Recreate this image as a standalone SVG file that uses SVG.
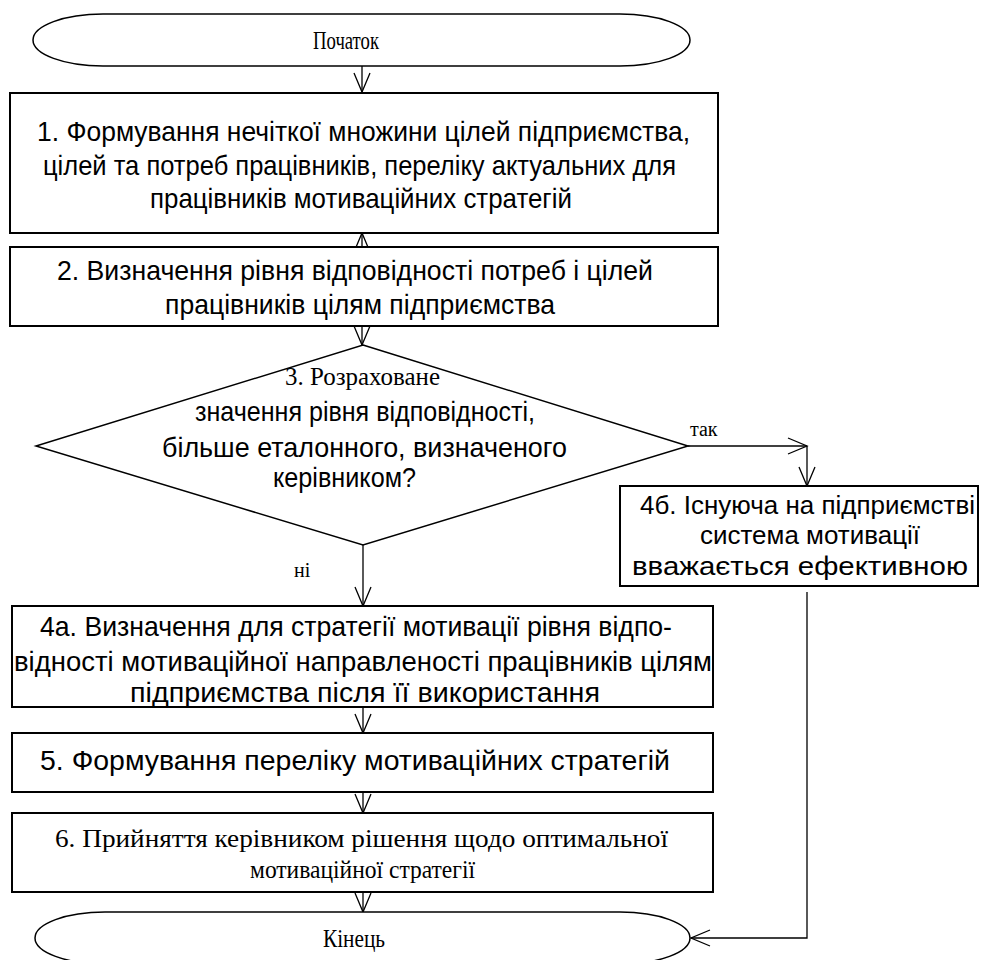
<svg xmlns="http://www.w3.org/2000/svg" width="981" height="960" viewBox="0 0 981 960">
<style>
.box{fill:#fff;stroke:#000;stroke-width:2}
.term{fill:#fff;stroke:#000;stroke-width:1.5}
.con{fill:none;stroke:#000;stroke-width:1.3}
.s{font-family:"Liberation Sans",Arial,sans-serif;font-size:28px;fill:#000}
.s4{font-family:"Liberation Sans",Arial,sans-serif;font-size:26px;fill:#000}
.r{font-family:"Liberation Serif","Times New Roman",serif;font-size:26px;fill:#000}
.lbl{font-family:"Liberation Serif","Times New Roman",serif;font-size:20px;fill:#000}
</style>
<defs>
<marker id="ah" viewBox="-21 -10 22 20" markerWidth="22" markerHeight="20" refX="0" refY="0" orient="auto" markerUnits="userSpaceOnUse" overflow="visible">
<path d="M-19,-8 L0,0 L-19,8" fill="none" stroke="#000" stroke-width="1.3"/>
</marker>
</defs>
<rect width="981" height="960" fill="#fff"/>

<g id="connectors">
<line class="con" x1="362" y1="66" x2="362" y2="92" marker-end="url(#ah)"/>
<line class="con" x1="362" y1="247" x2="362" y2="233" marker-end="url(#ah)"/>
<line class="con" x1="362" y1="326" x2="362" y2="345" marker-end="url(#ah)"/>
<polyline class="con" points="688,446 807,446" marker-end="url(#ah)"/>
<line class="con" x1="807" y1="446" x2="807" y2="486" marker-end="url(#ah)"/>
<line class="con" x1="363" y1="545" x2="363" y2="606" marker-end="url(#ah)"/>
<line class="con" x1="363" y1="707" x2="363" y2="733" marker-end="url(#ah)"/>
<line class="con" x1="363" y1="792" x2="363" y2="813" marker-end="url(#ah)"/>
<line class="con" x1="363" y1="892" x2="363" y2="912" marker-end="url(#ah)"/>
<polyline class="con" points="807,592 807,938 691,938" marker-end="url(#ah)"/>
<text class="lbl" x="690" y="436">так</text>
<text class="lbl" x="294" y="577">ні</text>
</g>

<g id="start">
<rect class="term" x="33" y="14" width="657" height="52" rx="70" ry="26"/>
<text class="r" x="313" y="49" font-size="22" textLength="66" lengthAdjust="spacingAndGlyphs">Початок</text>
</g>

<g id="step1">
<rect class="box" x="10" y="93" width="708" height="140"/>
<text class="s" x="37" y="141" textLength="653" lengthAdjust="spacingAndGlyphs">1. Формування нечіткої множини цілей підприємства,</text>
<text class="s" x="43" y="175" textLength="633" lengthAdjust="spacingAndGlyphs">цілей та потреб працівників, переліку актуальних для</text>
<text class="s" x="150" y="208" textLength="422" lengthAdjust="spacingAndGlyphs">працівників мотиваційних стратегій</text>
</g>

<g id="step2">
<rect class="box" x="10" y="247" width="708" height="79"/>
<text class="s" x="57" y="280" textLength="596" lengthAdjust="spacingAndGlyphs">2. Визначення рівня відповідності потреб і цілей</text>
<text class="s" x="165" y="314" textLength="390" lengthAdjust="spacingAndGlyphs">працівників цілям підприємства</text>
</g>

<g id="step3">
<polygon points="363,345 688,446 363,545 36,446" fill="#fff" stroke="#000" stroke-width="1.5"/>
<text class="r" x="285" y="385" font-size="24" textLength="155" lengthAdjust="spacingAndGlyphs">3. Розраховане</text>
<text class="s" x="195" y="421" textLength="340" lengthAdjust="spacingAndGlyphs">значення рівня відповідності,</text>
<text class="s" x="162" y="457" textLength="405" lengthAdjust="spacingAndGlyphs">більше еталонного, визначеного</text>
<text class="s" x="273" y="487" textLength="143" lengthAdjust="spacingAndGlyphs">керівником?</text>
</g>

<g id="step4b">
<rect class="box" x="620" y="486" width="358" height="100"/>
<text class="s4" x="640" y="514" textLength="335" lengthAdjust="spacingAndGlyphs">4б. Існуюча на підприємстві</text>
<text class="s4" x="700" y="544" textLength="220" lengthAdjust="spacingAndGlyphs">система мотивації</text>
<text class="s4" x="632" y="575" textLength="336" lengthAdjust="spacingAndGlyphs">вважається ефективною</text>
</g>

<g id="step4a">
<rect class="box" x="12" y="606" width="701" height="101"/>
<text class="s" x="40" y="636" textLength="632" lengthAdjust="spacingAndGlyphs">4а. Визначення для стратегії мотивації рівня відпо-</text>
<text class="s" x="14" y="671" textLength="698" lengthAdjust="spacingAndGlyphs">відності мотиваційної направленості працівників цілям</text>
<text class="s" x="130" y="702" textLength="470" lengthAdjust="spacingAndGlyphs">підприємства після її використання</text>
</g>

<g id="step5">
<rect class="box" x="12" y="733" width="701" height="59"/>
<text class="s" x="40" y="770" textLength="630" lengthAdjust="spacingAndGlyphs">5. Формування переліку мотиваційних стратегій</text>
</g>

<g id="step6">
<rect class="box" x="12" y="813" width="701" height="79"/>
<text class="r" x="55" y="847" textLength="613" lengthAdjust="spacingAndGlyphs">6. Прийняття керівником рішення щодо оптимальної</text>
<text class="r" x="250" y="878" textLength="225" lengthAdjust="spacingAndGlyphs">мотиваційної стратегії</text>
</g>

<g id="end">
<rect class="term" x="35" y="912" width="655" height="52" rx="70" ry="26"/>
<text class="r" x="323" y="947" font-size="22" textLength="62" lengthAdjust="spacingAndGlyphs">Кінець</text>
</g>
</svg>
